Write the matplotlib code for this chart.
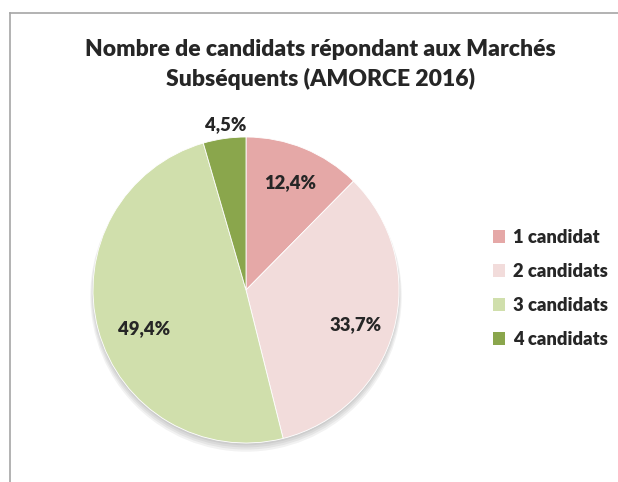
import matplotlib
matplotlib.use("Agg")
import matplotlib.pyplot as plt
from matplotlib.patches import Patch, Circle
from matplotlib.lines import Line2D
import numpy as np

categories = ["1 candidat", "2 candidats", "3 candidats", "4 candidats"]
values = [12.4, 33.7, 49.4, 4.5]
value_labels = ["12,4%", "33,7%", "49,4%", "4,5%"]
colors = ["#E5A8A7", "#F2DCDB", "#D0DFAC", "#8AA64C"]
label_dist = [0.76, 0.75, 0.71, 1.09]
label_rot = [0, -2.5, 5.5, -1.0]

plt.rcParams['font.family'] = ['Lato', 'DejaVu Sans']
WEIGHT = "heavy"

W, H = 618, 482
fig = plt.figure(figsize=(W/100, H/100), dpi=100)
fig.patch.set_facecolor("white")

# frame
fig.add_artist(Line2D([9.5/W, 9.5/W], [0, 1 - 12.5/H], transform=fig.transFigure, color="#A6A6A6", lw=1.2))
fig.add_artist(Line2D([9.5/W, 1], [1 - 12.5/H, 1 - 12.5/H], transform=fig.transFigure, color="#A6A6A6", lw=1.2))

cx, cy, R = 246, 290, 153
half = 170
ax = fig.add_axes([(cx-half)/W, (H-cy-half)/H, 2*half/W, 2*half/H])
lim = half / R

# soft shadow
for i, a in enumerate([0.05, 0.05, 0.05, 0.05]):
    ax.add_patch(Circle((0, -0.015 - 0.008*i), 1.0 + 0.006*i, color="black", alpha=a, lw=0, zorder=0))

wedges, _ = ax.pie(values, colors=colors, startangle=90, counterclock=False, radius=1.0,
                   wedgeprops=dict(edgecolor="white", linewidth=0.6), center=(0, 0), frame=True)
ax.set_xlim(-lim, lim)
ax.set_ylim(-lim, lim)
ax.set_aspect('equal')
ax.axis('off')
for w in wedges:
    w.set_zorder(2)

for w, lab, d, r in zip(wedges, value_labels, label_dist, label_rot):
    ang = np.deg2rad((w.theta1 + w.theta2) / 2 + r)
    ax.text(d*np.cos(ang), d*np.sin(ang), lab, ha="center", va="center",
            fontsize=13.3, fontweight=WEIGHT, color="#262626", zorder=5)

fig.text(320/W, 1 - 50/H, "Nombre de candidats répondant aux Marchés", ha="center", va="center",
         fontsize=16.5, fontweight=WEIGHT, color="#262626")
fig.text(320/W, 1 - 79/H, "Subséquents (AMORCE 2016)", ha="center", va="center",
         fontsize=16.5, fontweight=WEIGHT, color="#262626")

handles = [Patch(facecolor=c, edgecolor="none") for c in colors]
leg = fig.legend(handles, categories, loc="upper left", bbox_to_anchor=(476/W, 1 - 212/H),
                 frameon=False, handlelength=0.7, handleheight=0.7, handletextpad=0.4,
                 labelspacing=0.93, prop=dict(weight=WEIGHT, size=13.2))
for t in leg.get_texts():
    t.set_color("#262626")

fig.savefig("out.png", dpi=100)
